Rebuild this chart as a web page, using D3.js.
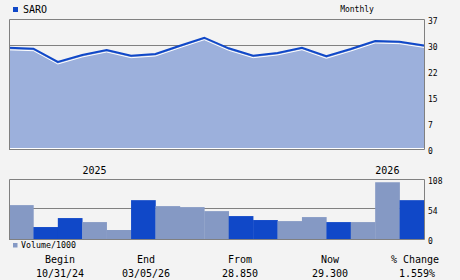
<!DOCTYPE html>
<html><head><meta charset="utf-8">
<script src="https://cdn.jsdelivr.net/npm/d3@7"></script>
<style>
html,body{margin:0;padding:0;background:#f3f3f3;}
svg{display:block;}
text{font-family:"DejaVu Sans Mono",monospace;fill:#000;}
</style></head>
<body><svg id="c" width="460" height="280"></svg>
<script>
const ticker = "SARO";
const period = "Monthly";
const months = ["2024-10","2024-11","2024-12","2025-01","2025-02","2025-03","2025-04","2025-05","2025-06","2025-07","2025-08","2025-09","2025-10","2025-11","2025-12","2026-01","2026-02"];
const priceDates = ["2024-10","2024-11","2024-12","2025-01","2025-02","2025-03","2025-04","2025-05","2025-06","2025-07","2025-08","2025-09","2025-10","2025-11","2025-12","2026-01","2026-02","2026-03"];
const prices = [28.9,28.66,24.86,26.86,28.29,26.66,27.14,29.51,31.8,28.77,26.66,27.43,28.94,26.49,28.57,30.86,30.66,29.6];
const volumes = [61.5,21.7,38,30.7,16.3,70.5,59.7,57.9,50.6,41.6,34.4,32.5,39.8,30.7,30.7,103,70.5];
const volumeUp = [false,true,true,false,false,true,false,false,false,true,true,false,false,true,false,false,true];
const priceTicks = [0,7.4,14.8,22.2,29.6,37];
const volumeTicks = [0,54,108];
const yearLabels = [{month:"2025-01",label:"2025"},{month:"2026-01",label:"2026"}];
const summaryLabels = ["Begin","End","From","Now","% Change"];
const summaryValues = ["10/31/24","03/05/26","28.850","29.300","1.559%"];

const svg = d3.select("#c");
const L = 9, R = 424;
const grey = "#808080", dark = "#1048c8", light = "#8599c4", fill = "#9cb0dc";

const xb = d3.scaleBand().domain(months).range([L, R]).padding(0);
const xp = d3.scalePoint().domain(priceDates).range([L, R]);
const yp = d3.scaleLinear().domain([0, 37]).range([149, 19.5]);
const yv = d3.scaleLinear().domain([0, 108]).range([239, 179.5]);

// price panel
const gp = svg.append("g");
gp.append("line").attr("x1", L).attr("x2", R).attr("y1", Math.round(yp(29.6)) + 0.5).attr("y2", Math.round(yp(29.6)) + 0.5).attr("stroke", grey);
const area = d3.area().x((d, i) => xp(priceDates[i])).y0(yp(0)).y1(d => yp(d));
const line = d3.line().x((d, i) => xp(priceDates[i])).y(d => yp(d));
gp.append("path").datum(prices).attr("d", area).attr("fill", fill);
gp.append("path").datum(prices).attr("d", line).attr("fill", "none").attr("stroke", "#ffffff").attr("stroke-width", 1).attr("transform", "translate(0,2)");
gp.append("path").datum(prices).attr("d", line).attr("fill", "none").attr("stroke", dark).attr("stroke-width", 2);
gp.append("line").attr("x1", L).attr("x2", R).attr("y1", 148.5).attr("y2", 148.5).attr("stroke", "#ffffff");
gp.append("path").attr("d", `M${L+0.5},149.5V19.5H${R+0.5}V149.5H${L}`).attr("fill", "none").attr("stroke", grey);

const ap = gp.append("g").attr("transform", `translate(${R},1.5)`)
  .call(d3.axisRight(yp).tickValues(priceTicks).tickFormat(d3.format(".0f")).tickSize(0).tickPadding(4));
ap.select(".domain").remove();
ap.selectAll("text").attr("font-family", "DejaVu Sans Mono").attr("font-size", 8).attr("fill", "#000");

// volume panel
const gv = svg.append("g");
gv.append("line").attr("x1", L).attr("x2", R).attr("y1", Math.round(yv(54)) - 0.5).attr("y2", Math.round(yv(54)) - 0.5).attr("stroke", grey);
gv.selectAll("rect.v").data(volumes).enter().append("rect")
  .attr("x", (d, i) => xb(months[i])).attr("width", xb.bandwidth() + 0.3)
  .attr("y", d => yv(d)).attr("height", d => yv(0) - yv(d))
  .attr("fill", (d, i) => volumeUp[i] ? dark : light);
gv.append("path").attr("d", `M${L+0.5},239V179.5H${R+0.5}V239.5H${L}`).attr("fill", "none").attr("stroke", grey);
const av = gv.append("g").attr("transform", `translate(${R},1.5)`)
  .call(d3.axisRight(yv).tickValues(volumeTicks).tickSize(0).tickPadding(4));
av.select(".domain").remove();
av.selectAll("text").attr("font-family", "DejaVu Sans Mono").attr("font-size", 8).attr("fill", "#000");

// year labels
svg.selectAll("text.yr").data(yearLabels).enter().append("text")
  .attr("x", d => xb(d.month) + xb.bandwidth() / 2).attr("y", 174)
  .attr("text-anchor", "middle").attr("font-size", 10).text(d => d.label);

// legends
svg.append("rect").attr("x", 13).attr("y", 7).attr("width", 5).attr("height", 5).attr("fill", dark);
svg.append("text").attr("x", 23).attr("y", 13).attr("font-size", 10).text(ticker);
svg.append("text").attr("x", 357).attr("y", 12).attr("font-size", 8).attr("text-anchor", "middle").text(period);
svg.append("rect").attr("x", 13).attr("y", 243).attr("width", 4.5).attr("height", 4.5).attr("fill", light);
svg.append("text").attr("x", 21).attr("y", 247.5).attr("font-size", 8.3).text("Volume/1000");

// summary
const sx = [60, 146, 240, 330, 415];
svg.selectAll("text.sl").data(summaryLabels).enter().append("text")
  .attr("x", (d, i) => sx[i]).attr("y", 263).attr("text-anchor", "middle").attr("font-size", 10).text(d => d);
svg.selectAll("text.sv").data(summaryValues).enter().append("text")
  .attr("x", (d, i) => sx[i] + (i === 4 ? 2 : 0)).attr("y", 276.5).attr("text-anchor", "middle").attr("font-size", 10).text(d => d);
</script></body></html>
